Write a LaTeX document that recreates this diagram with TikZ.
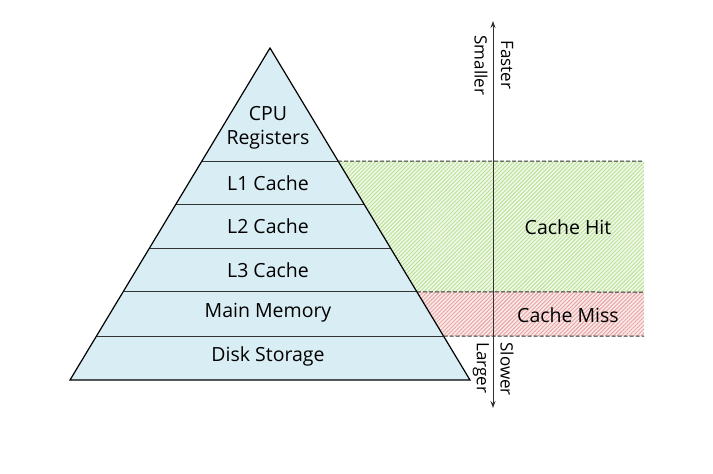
\documentclass[tikz,border=0pt]{standalone}
\usepackage{fontspec}
\setmainfont{Open Sans}
\usetikzlibrary{calc,patterns.meta,arrows.meta}

\definecolor{levelblue}{RGB}{217,237,244}
\definecolor{hitgreen}{RGB}{185,225,150}
\definecolor{missred}{RGB}{232,160,160}
\definecolor{linegray}{RGB}{50,50,50}

\tikzset{
  level/.style={font=\fontsize{19.5}{23.5}\selectfont, align=center},
  levelline/.style={draw=black!80, line width=1pt},
  bandline/.style={draw=linegray, dash pattern=on 4pt off 2pt, line width=1pt},
  sidelabel/.style={font=\fontsize{17}{20}\selectfont, rotate=-90},
  hatch/.style={fill=#1!22, postaction={pattern={Lines[angle=45, distance=2.8pt, line width=0.9pt]}, pattern color=#1}},
}

\begin{document}
\begin{tikzpicture}[x=1pt, y=-1pt]
  \useasboundingbox (0,0) rectangle (713,474);

  % Pyramid corners
  \coordinate (apex) at (270,48);
  \coordinate (bl) at (70,380);
  \coordinate (br) at (470,380);

  % Hatched bands
  \path[hatch=hitgreen]
    ($(apex)!0.3404!(br)$) -- (644,161) -- (644,292) -- ($(apex)!0.7349!(br)$) -- cycle;
  \path[hatch=missred]
    ($(apex)!0.7349!(br)$) -- (644,292) -- (644,336) -- ($(apex)!0.8675!(br)$) -- cycle;

  % Pyramid
  \fill[levelblue] (apex) -- (br) -- (bl) -- cycle;
  \foreach \t in {0.3404,0.4699,0.6024,0.7349,0.8675} {
    \draw[levelline] ($(apex)!\t!(bl)$) -- ($(apex)!\t!(br)$);
  }
  \draw[black, line width=1.2pt] (apex) -- (br) -- (bl) -- cycle;

  % Band borders
  \draw[bandline] ($(apex)!0.3404!(br)$) -- (644,161);
  \draw[bandline] ($(apex)!0.7349!(br)$) -- (644,292);
  \draw[bandline] ($(apex)!0.8675!(br)$) -- (644,336);

  % Level labels
  \node[level] (cpu) at (268,128) {CPU\\Registers};
  \node[level] (l1) at (268,183) {L1 Cache};
  \node[level] (l2) at (268,226) {L2 Cache};
  \node[level] (l3) at (268,270) {L3 Cache};
  \node[level] (mem) at (268,313) {Main Memory};
  \node[level] (disk) at (268,356) {Disk Storage};
  \node[level] (hit) at (568,227) {Cache Hit};
  \node[level] (miss) at (568,315) {Cache Miss};

  % Speed / size axis
  \coordinate (top) at (493,21);
  \coordinate (bottom) at (493,408);
  \draw[{Stealth[length=7pt,width=5pt]}-{Stealth[length=7pt,width=5pt]}, linegray, line width=1pt] (top) -- (bottom);
  \node[sidelabel, anchor=west] (faster) at (507,37) {Faster};
  \node[sidelabel, anchor=west] (smaller) at (481,32) {Smaller};
  \node[sidelabel, anchor=west] (slower) at (507,339) {Slower};
  \node[sidelabel, anchor=west] (larger) at (481,339) {Larger};
\end{tikzpicture}
\end{document}
